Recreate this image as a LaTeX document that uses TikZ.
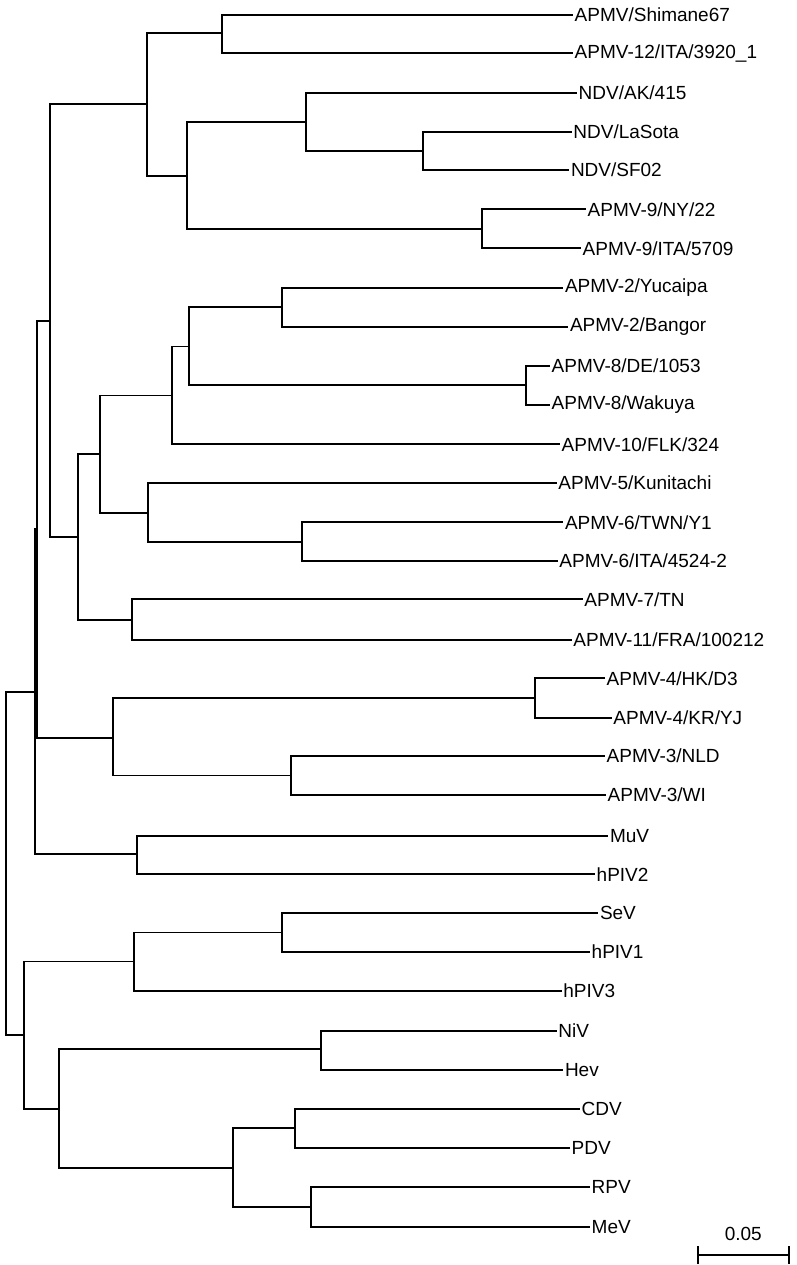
\documentclass[tikz,border=0pt]{standalone}
\usepackage{fontspec}
\setmainfont{Liberation Sans}
\usepackage{tikz}
\usetikzlibrary{arrows.meta}

\tikzset{
  branch/.style={draw=black, line width=1.9pt},
  taxon/.style={anchor=west, inner sep=1.5pt, font=\fontsize{19}{22}\selectfont},
}

\begin{document}
\begin{tikzpicture}[x=1pt, y=-1pt]
  \useasboundingbox (0,0) rectangle (796,1265);

  % internal nodes of the tree
  \foreach \nm/\x/\y in {root/6/863.4, nB/35/691.7, nA/37/529, nApmv/50/320.7,
      n1/146.7/104.2, n12/222.3/33.3, nNdv9/187.3/175.7, nNdv/305.7/122.2,
      nLs/422.7/150.8, n9/481.7/228.8, n2/78/537.3, n3/100/454, n4/172.3/395.5,
      n28/189/346.5, n2y/281.7/307, n8/526/385.3, n56/148.3/512.7, n6/301.7/541.7,
      n711/131.7/619.7, n34/113.3/737.7, n4b/535/698, n3b/291/775.5,
      nMuV/136.7/854, nPar/24/1035, nResp/133.7/961.5, nSe/281.7/932.5,
      nMorb/59.3/1108.7, nHen/320.7/1049.3, nM/233.3/1168, nCP/294.7/1128.4,
      nRM/311.3/1206.7}
    \coordinate (\nm) at (\x,\y);

  % leaves
  \foreach \nm/\x/\y/\txt in {shimane/573/15/{APMV/Shimane67},
      ita3920/573/53.3/{APMV-12/ITA/3920\_1}, ak415/577/92.7/{NDV/AK/415},
      lasota/571.7/131.7/{NDV/LaSota}, sf02/569.3/170/{NDV/SF02},
      ny22/586/209.3/{APMV-9/NY/22}, ita5709/581/248.3/{APMV-9/ITA/5709},
      yucaipa/563.3/287.7/{APMV-2/Yucaipa}, bangor/568.3/326.7/{APMV-2/Bangor},
      de1053/550/365.7/{APMV-8/DE/1053}, wakuya/550/405/{APMV-8/Wakuya},
      flk324/560/444.3/{APMV-10/FLK/324}, kunitachi/556.7/482.7/{APMV-5/Kunitachi},
      twny1/563.3/522.3/{APMV-6/TWN/Y1}, ita4524/557.7/561/{APMV-6/ITA/4524-2},
      tn/582.7/599.3/{APMV-7/TN}, fra/571.7/640/{APMV-11/FRA/100212},
      hkd3/605/678.3/{APMV-4/HK/D3}, kryj/611.7/717.7/{APMV-4/KR/YJ},
      nld/605/756/{APMV-3/NLD}, wi/606/795/{APMV-3/WI},
      muv/608.3/835.7/MuV, hpiv2/595/874.3/hPIV2,
      sev/598.3/913.3/SeV, hpiv1/590/951.7/hPIV1, hpiv3/561.7/990.7/hPIV3,
      niv/556.7/1030.7/NiV, hev/563.3/1070/Hev,
      cdv/580/1109/CDV, pdv/570/1147.7/PDV,
      rpv/590/1186.7/RPV, mev/590/1226.7/MeV}
    \node[taxon] (\nm) at (\x,\y) {\txt};

  % branches
  \foreach \a/\b in {root/nB, root/nPar, nB/nA, nB/nMuV, nA/nApmv, nA/n34,
      nApmv/n1, nApmv/n2, n1/n12, n1/nNdv9, n12/shimane, n12/ita3920,
      nNdv9/nNdv, nNdv9/n9, nNdv/ak415, nNdv/nLs, nLs/lasota, nLs/sf02,
      n9/ny22, n9/ita5709, n2/n3, n2/n711, n3/n4, n3/n56, n4/n28, n4/flk324,
      n28/n2y, n28/n8, n2y/yucaipa, n2y/bangor, n8/de1053, n8/wakuya,
      n56/kunitachi, n56/n6, n6/twny1, n6/ita4524, n711/tn, n711/fra,
      n34/n4b, n34/n3b, n4b/hkd3, n4b/kryj, n3b/nld, n3b/wi,
      nMuV/muv, nMuV/hpiv2, nPar/nResp, nPar/nMorb, nResp/nSe, nResp/hpiv3,
      nSe/sev, nSe/hpiv1, nMorb/nHen, nMorb/nM, nHen/niv, nHen/hev,
      nM/nCP, nM/nRM, nCP/cdv, nCP/pdv, nRM/rpv, nRM/mev}
    \draw[branch] (\a) |- (\b);

  % scale bar
  \coordinate (sbl) at (696.7,1255);
  \coordinate (sbr) at (790,1255);
  \draw[branch, {Bar[width=18pt]}-{Bar[width=18pt]}] (sbl) -- (sbr);
  \node[font=\fontsize{19}{22}\selectfont] (sblabel) at (743.3,1234) {0.05};
\end{tikzpicture}
\end{document}
